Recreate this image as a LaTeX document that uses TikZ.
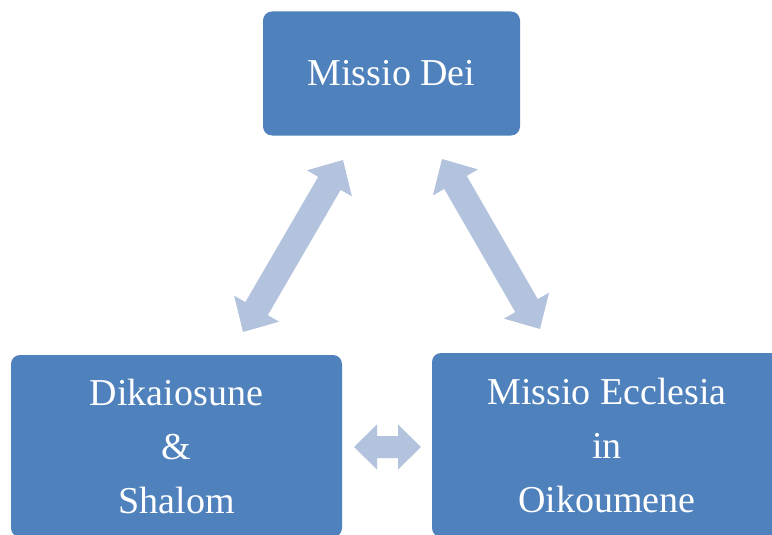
\documentclass[tikz,border=0pt]{standalone}
\usepackage{fontspec}
\setmainfont{Liberation Serif}
\usetikzlibrary{calc}
\definecolor{boxblue}{HTML}{4F81BD}
\definecolor{arrowblue}{HTML}{B3C3DE}
\tikzset{
  box/.style={fill=boxblue, rounded corners=9pt, text=white, align=center,
    inner sep=0pt, font=\fontsize{38}{54}\selectfont},
}
% #1 from, #2 to, #3 head length, #4 head half width, #5 shaft half width
\newcommand\blockarrow[5]{%
  \fill[arrowblue] let \p1=(#1), \p2=(#2),
    \n1={atan2(\y2-\y1,\x2-\x1)}, \n2={veclen(\x2-\x1,\y2-\y1)} in
    [shift={(\p1)}, rotate=\n1]
    (0pt,0pt) -- (#3,#4) -- (#3,#5) -- ({\n2*1pt-#3},#5) -- ({\n2*1pt-#3},#4)
    -- ({\n2*1pt},0pt) -- ({\n2*1pt-#3},-#4) -- ({\n2*1pt-#3},-#5)
    -- (#3,-#5) -- (#3,-#4) -- cycle;}
\begin{document}
\begin{tikzpicture}[x=1pt,y=-1pt]
\useasboundingbox (0,0) rectangle (772,535);
\clip (0,0) rectangle (772,535);
\node[box, minimum width=257pt, minimum height=124pt] (dei) at (391.5,73.5) {Missio Dei};
\node[box, minimum width=331pt, minimum height=182pt] (dik) at (176.5,446) {Dikaiosune\\\&\\Shalom};
\node[box, minimum width=350pt, minimum height=184pt] (eccl) at (607,445) {Missio Ecclesia\\in\\Oikoumene};
\coordinate (l1) at (343,160);
\coordinate (l2) at (243,332);
\coordinate (r1) at (442,159);
\coordinate (r2) at (540,329);
\coordinate (h1) at (354,447);
\coordinate (h2) at (421,447);
\blockarrow{l1}{l2}{27pt}{26pt}{13pt}
\blockarrow{r1}{r2}{27pt}{26pt}{13pt}
\blockarrow{h1}{h2}{23pt}{22.5pt}{11pt}
\end{tikzpicture}
\end{document}
